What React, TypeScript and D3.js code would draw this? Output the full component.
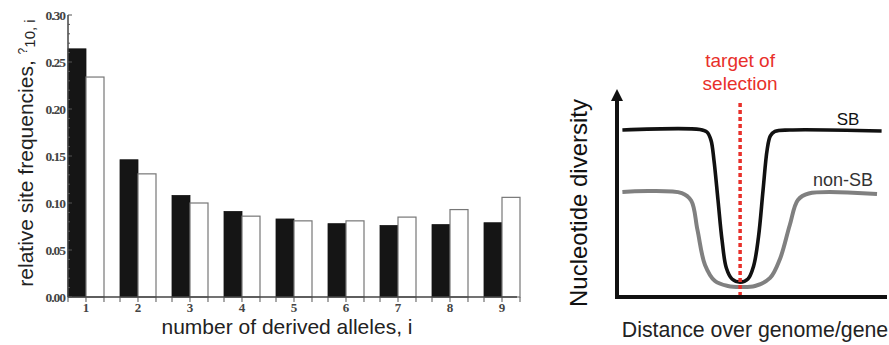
import React from "react";
import * as d3 from "d3";

const width = 889;
const height = 345;

// left panel: site frequency spectrum
const alleles = [1, 2, 3, 4, 5, 6, 7, 8, 9];
const blackValues = [0.264, 0.146, 0.108, 0.091, 0.083, 0.078, 0.076, 0.077, 0.079];
const whiteValues = [0.234, 0.131, 0.1, 0.086, 0.081, 0.081, 0.085, 0.093, 0.106];
const yTicks = [0, 0.05, 0.1, 0.15, 0.2, 0.25, 0.3];
const yMinorTicks = d3.range(0, 31).map(d => d / 100);

// right panel: schematic diversity curves (x: 0-100 along genome, y: 0-1 diversity)
const sbX = [2, 30.7, 33.3, 34.8, 35.9, 37.4, 38.9, 40.5, 42.6, 45.6, 48.5, 50.6, 52.4, 54.1, 55.6, 56.8, 58.5, 64, 98];
const sbY = [0.807, 0.809, 0.797, 0.758, 0.662, 0.469, 0.275, 0.14, 0.087, 0.072, 0.087, 0.15, 0.29, 0.517, 0.71, 0.778, 0.8, 0.807, 0.802];
const nonSbX = [2, 24, 27.5, 29.8, 32.6, 36.3, 41.1, 45.6, 51.1, 56.7, 60.4, 64, 67, 71, 96.3];
const nonSbY = [0.507, 0.502, 0.465, 0.324, 0.155, 0.077, 0.053, 0.048, 0.053, 0.092, 0.185, 0.348, 0.469, 0.5, 0.498];
const targetX = 45.6;

const sans = "'Liberation Sans', Arial, sans-serif";
const serif = "'Liberation Serif', 'Times New Roman', serif";

export default function App() {
  // left scales
  const x = d3.scaleBand<number>().domain(alleles).range([68, 520]).paddingInner(0.3077).paddingOuter(0);
  const y = d3.scaleLinear().domain([0, 0.3]).range([297, 15]);
  const bw = x.bandwidth() / 2;

  // right scales
  const rx = d3.scaleLinear().domain([0, 100]).range([617, 887]);
  const ry = d3.scaleLinear().domain([0, 1]).range([297, 90]);
  const line = d3.line<[number, number]>().x(d => rx(d[0])).y(d => ry(d[1])).curve(d3.curveCatmullRom.alpha(0.5));
  const sbPts = sbX.map((v, i) => [v, sbY[i]] as [number, number]);
  const nonSbPts = nonSbX.map((v, i) => [v, nonSbY[i]] as [number, number]);

  return (
    <svg width={width} height={height} style={{ position: "absolute", left: 0, top: 0, background: "#fff" }}>
      {/* ---------- left chart ---------- */}
      {alleles.map((a, i) => (
        <g key={a}>
          <rect x={x(a)} y={y(blackValues[i])} width={bw} height={y(0) - y(blackValues[i])} fill="#151515" stroke="#151515" strokeWidth={0.8} />
          <rect x={x(a)! + bw} y={y(whiteValues[i])} width={bw} height={y(0) - y(whiteValues[i])} fill="#fff" stroke="#777" strokeWidth={1.2} />
        </g>
      ))}
      <line x1={68} x2={517} y1={y(0)} y2={y(0)} stroke="#444" strokeWidth={1.5} />
      <line x1={68} x2={68} y1={y(0.3)} y2={y(0)} stroke="#444" strokeWidth={1.5} />
      {yMinorTicks.map(t => (
        <line key={t} x1={68} x2={Math.round(t * 100) % 5 === 0 ? 72 : 70} y1={y(t)} y2={y(t)} stroke="#555" strokeWidth={1} />
      ))}
      {yTicks.map(t => (
        <text key={t} x={65} y={y(t)} dy="0.35em" textAnchor="end" fontFamily={serif} fontSize={13.5} fontWeight="bold" fill="#444" letterSpacing={-1}>
          {t.toFixed(2)}
        </text>
      ))}
      {alleles.map(a => (
        <g key={a}>
          {[x(a)!, x(a)! + bw, x(a)! + 2 * bw].map((px, j) => (
            <line key={j} x1={px} x2={px} y1={y(0)} y2={y(0) + 5} stroke="#555" strokeWidth={1} />
          ))}
          <text x={x(a)! + bw} y={312} textAnchor="middle" fontFamily={serif} fontSize={13} fontWeight="bold" fill="#444">{a}</text>
        </g>
      ))}
      <text x={287} y={334} textAnchor="middle" fontFamily={sans} fontSize={21} fill="#222">number of derived alleles, i</text>
      <text transform="translate(33,153) rotate(-90)" textAnchor="middle" fontFamily={sans} fontSize={21} fill="#222">
        relative site frequencies, <tspan fontSize={12} dy={-6}>?</tspan><tspan fontSize={15} dy={8}>10, i</tspan>
      </text>

      {/* ---------- right chart ---------- */}
      <path d={line(nonSbPts)!} fill="none" stroke="#808080" strokeWidth={4} />
      <path d={line(sbPts)!} fill="none" stroke="#111" strokeWidth={3.6} />
      <line x1={rx(targetX)} x2={rx(targetX)} y1={103} y2={ry(0)} stroke="#e8302a" strokeWidth={3.5} strokeDasharray="4,3" />
      <line x1={rx(0)} x2={rx(100)} y1={ry(0)} y2={ry(0)} stroke="#111" strokeWidth={4} />
      <line x1={rx(0)} x2={rx(0)} y1={ry(0) + 2} y2={100} stroke="#111" strokeWidth={4} />
      <path d={`M${rx(0) - 6},${101} L${rx(0)},${89} L${rx(0) + 6},${101} Z`} fill="#111" />
      <text x={rx(targetX)} y={67} textAnchor="middle" fontFamily={sans} fontSize={19} fill="#e8302a">target of</text>
      <text x={rx(targetX)} y={90} textAnchor="middle" fontFamily={sans} fontSize={19} fill="#e8302a">selection</text>
      <text x={848} y={125} textAnchor="middle" fontFamily={sans} fontSize={17} fill="#111">SB</text>
      <text x={843} y={186} textAnchor="middle" fontFamily={sans} fontSize={18} fill="#333">non-SB</text>
      <text transform={`translate(587,203) rotate(-90)`} textAnchor="middle" fontFamily={sans} fontSize={24} fill="#111">Nucleotide diversity</text>
      <text x={755} y={337} textAnchor="middle" fontFamily={sans} fontSize={21.3} fill="#222">Distance over genome/gene</text>
    </svg>
  );
}
